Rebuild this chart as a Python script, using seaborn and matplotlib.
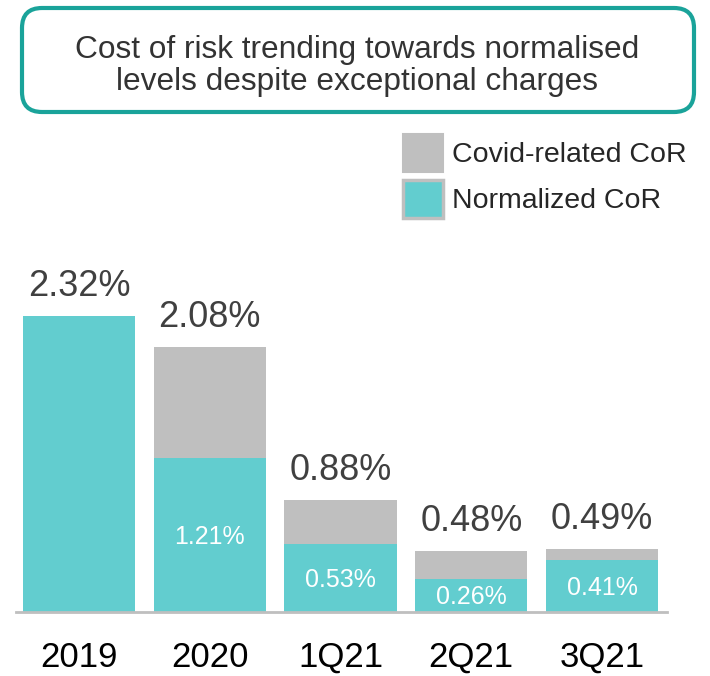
import matplotlib
matplotlib.use("Agg")
import matplotlib.pyplot as plt
from matplotlib.patches import FancyBboxPatch, Patch
import seaborn as sns

# data
periods = ["2019", "2020", "1Q21", "2Q21", "3Q21"]
total_cor = [2.32, 2.08, 0.88, 0.48, 0.49]
normalized_cor = [2.32, 1.21, 0.53, 0.26, 0.41]
inner_labels = ["", "1.21%", "0.53%", "0.26%", "0.41%"]
title_text = "Cost of risk trending towards normalised\nlevels despite exceptional charges"
legend_labels = ["Covid-related CoR", "Normalized CoR"]

teal = "#62CDCF"
grey = "#BFBFBF"
border = "#1AA39A"

sns.set_style("white")
plt.rcParams["font.family"] = ["Liberation Sans", "DejaVu Sans"]

fig = plt.figure(figsize=(7.1, 6.76), dpi=100)
ax = fig.add_axes([16 / 710, 64 / 676, 651 / 710, 370 / 676])

# total bar in grey, normalized part drawn on top in teal
sns.barplot(x=periods, y=total_cor, color=grey, width=0.857, linewidth=0,
            saturation=1, ax=ax)
sns.barplot(x=periods, y=normalized_cor, color=teal, width=0.857, linewidth=0,
            saturation=1, ax=ax)

ax.set_xlim(-0.482, 4.497)
ax.set_ylim(0, 2.9)

for i, (tot, norm, lab) in enumerate(zip(total_cor, normalized_cor, inner_labels)):
    ax.annotate(f"{tot:.2f}%", (i, tot), xytext=(0, 14.4), textcoords="offset points",
                ha="center", va="baseline", fontsize=26, color="#404040")
    if lab:
        ax.annotate(lab, (i, norm / 2), xytext=(0, -1.5), textcoords="offset points",
                    ha="center", va="center", fontsize=18, color="white")

for side in ["top", "right", "left"]:
    ax.spines[side].set_visible(False)
ax.spines["bottom"].set_color(grey)
ax.spines["bottom"].set_linewidth(2)
ax.set_yticks([])
ax.tick_params(axis="x", length=0, pad=21, labelsize=25, labelcolor="black")
ax.set_xlabel("")
ax.set_ylabel("")

# header box
box = FancyBboxPatch((0.22, 5.64), 6.72, 1.04, boxstyle="round,pad=0,rounding_size=0.2",
                     transform=fig.dpi_scale_trans, facecolor="white",
                     edgecolor=border, linewidth=3, zorder=0)
fig.patches.append(box)
fig.text(0.503, 0.902, title_text, ha="center", va="center", fontsize=22.8,
         color="#333333", linespacing=1.08)

handles = [Patch(facecolor=grey, edgecolor=grey, linewidth=1.5),
           Patch(facecolor=teal, edgecolor=grey, linewidth=2.5)]
fig.legend(handles, legend_labels, loc="upper left", bbox_to_anchor=(403 / 710, 1 - 134 / 676),
           frameon=False, fontsize=20.5, handlelength=1.4, handleheight=1.65,
           handletextpad=0.32, labelspacing=0.3, borderpad=0, borderaxespad=0)

fig.savefig("out.png", dpi=100)
